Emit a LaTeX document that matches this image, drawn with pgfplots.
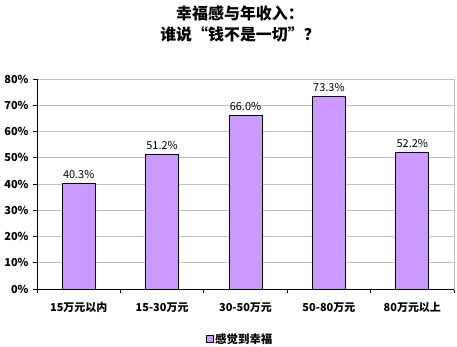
\documentclass[border=0pt]{standalone}
\usepackage{fontspec}
\setmainfont{Noto Sans CJK SC}
\usepackage{pgfplots}
\pgfplotsset{compat=1.18}
\definecolor{barpurple}{HTML}{CC99FF}
\definecolor{gridgray}{HTML}{C0C0C0}
\begin{document}
\begin{tikzpicture}[x=1bp,y=1bp]
\path[use as bounding box] (0,0) rectangle (457,346);
\node[font=\fontsize{16}{18}\selectfont\bfseries] at (240,333) {幸福感与年收入：};
\node[font=\fontsize{16}{18}\selectfont\bfseries] at (240,312) {谁说“钱不是一切”？};
\begin{axis}[
  at={(37bp,57bp)}, anchor=south west,
  scale only axis, width=417bp, height=210bp,
  xmin=-0.5, xmax=4.5, ymin=0, ymax=80,
  ytick={0,10,...,80},
  yticklabels={0\%,10\%,20\%,30\%,40\%,50\%,60\%,70\%,80\%},
  xtick={-0.5,0.5,1.5,2.5,3.5,4.5},
  x tick label as interval,
  xticklabels={15万元以内,15-30万元,30-50万元,50-80万元,80万元以上},
  xtick pos=bottom, ytick pos=left,
  tick align=outside,
  major tick length=4bp,
  tick style={black, line width=0.8pt},
  x tick label style={font=\fontsize{11}{13}\selectfont\bfseries, yshift=-6bp},
  y tick label style={font=\fontsize{11}{13}\selectfont\bfseries, xshift=-1bp},
  ymajorgrids, xmajorgrids=false, grid style={gridgray, line width=0.8pt},
  axis line style={gridgray, line width=0.8pt},
  ybar, bar width=33bp,
  nodes near coords={\pgfmathprintnumber[fixed,fixed zerofill,precision=1,assume math mode=true]{\pgfplotspointmeta}\%},
  nodes near coords style={font=\fontsize{11}{13}\selectfont, black, yshift=1bp},
  legend style={at={(0.487,-0.238)}, anchor=center, draw=none, font=\fontsize{11.5}{13}\selectfont\bfseries, legend cell align=left, inner sep=1pt},
  legend image code/.code={\draw[#1, draw=black, line width=0.4pt] (0bp,-3.5bp) rectangle (7bp,3.5bp);},
  clip=false,
]
\addplot[fill=barpurple, draw=black, line width=0.8pt] coordinates {(0,40.3) (1,51.2) (2,66.0) (3,73.3) (4,52.2)};
\addlegendentry{感觉到幸福}
\draw[black, line width=0.8pt] (rel axis cs:0,0) -- (rel axis cs:0,1);
\draw[black, line width=0.8pt] (rel axis cs:0,0) -- (rel axis cs:1,0);
\end{axis}
\end{tikzpicture}
\end{document}
